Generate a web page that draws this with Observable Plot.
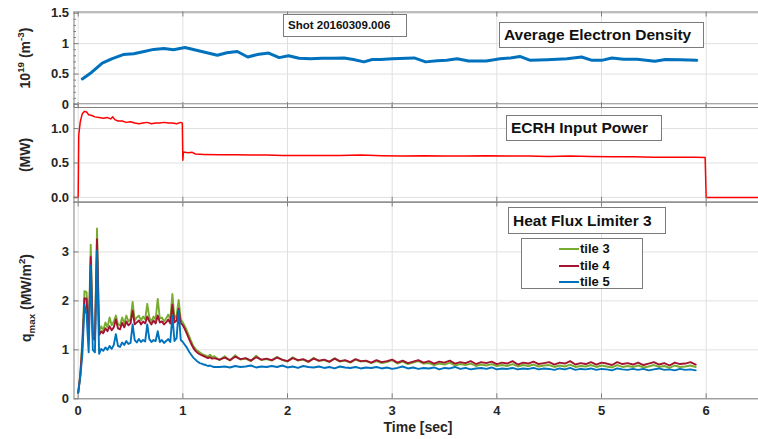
<!DOCTYPE html>
<html><head><meta charset="utf-8">
<script src="https://cdn.jsdelivr.net/npm/d3@7"></script>
<script src="https://cdn.jsdelivr.net/npm/@observablehq/plot@0.6"></script>
<style>
body{margin:0;background:#fff;}
#wrap{position:relative;width:758px;height:439px;overflow:hidden;background:#fff;font-family:"Liberation Sans",Arial,Helvetica,sans-serif;}
#wrap svg{position:absolute;left:0;}
.box{position:absolute;background:#fff;border:1px solid #7a7a7a;box-sizing:border-box;font-weight:bold;color:#111;white-space:nowrap;}
</style></head><body><div id="wrap"></div>
<script>
// ---------------- data ----------------
const xTicks = [0, 1, 2, 3, 4, 5, 6];
const densTicks = [0, 0.5, 1, 1.5];
const densMinor = [0.1,0.2,0.3,0.4,0.6,0.7,0.8,0.9,1.1,1.2,1.3,1.4];
const powTicks = [0, 0.5, 1.0];
const heatTicks = [0, 1, 2, 3];

const densT = [0.04,0.13,0.23,0.32,0.43,0.53,0.63,0.72,0.82,0.91,1.02,1.13,1.23,1.33,1.42,1.52,1.62,1.71,1.82,1.92,2.01,2.11,2.22,2.33,2.44,2.54,2.63,2.73,2.81,2.89,3.0,3.21,3.32,3.43,3.52,3.62,3.73,3.90,4.03,4.13,4.22,4.32,4.48,4.67,4.81,4.91,5.0,5.10,5.21,5.34,5.51,5.61,5.75,5.91];
const densV = [0.42,0.53,0.68,0.75,0.82,0.835,0.87,0.905,0.92,0.90,0.935,0.89,0.85,0.81,0.85,0.87,0.78,0.82,0.845,0.77,0.80,0.76,0.75,0.76,0.76,0.765,0.74,0.70,0.74,0.74,0.75,0.765,0.70,0.72,0.725,0.75,0.715,0.715,0.75,0.765,0.79,0.725,0.735,0.75,0.78,0.725,0.725,0.765,0.745,0.745,0.71,0.74,0.735,0.725];

const powT = [-0.04,0.0,0.005,0.02,0.04,0.06,0.08,0.10,0.13,0.16,0.20,0.24,0.28,0.31,0.33,0.35,0.38,0.42,0.46,0.50,0.54,0.58,0.62,0.66,0.70,0.74,0.78,0.82,0.86,0.90,0.94,0.98,0.995,1.0,1.005,1.05,1.09,1.12,1.2,1.35,1.5,1.65,1.8,1.95,2.1,2.3,2.5,2.7,2.9,3.1,3.3,3.5,3.7,3.9,4.1,4.3,4.5,4.7,4.9,5.1,5.3,5.5,5.7,5.9,5.99,6.0,6.5];
const powV = [0,0,0.9,1.1,1.22,1.25,1.24,1.20,1.19,1.17,1.16,1.15,1.16,1.14,1.17,1.13,1.11,1.11,1.09,1.10,1.08,1.07,1.08,1.09,1.07,1.08,1.08,1.09,1.08,1.08,1.07,1.09,1.08,0.54,0.66,0.65,0.655,0.63,0.625,0.62,0.62,0.615,0.615,0.61,0.61,0.61,0.61,0.615,0.605,0.60,0.605,0.60,0.60,0.605,0.60,0.60,0.595,0.60,0.595,0.59,0.59,0.585,0.585,0.585,0.58,0.0,0.0];

// heat flux: fast sampling 0..1.30 every 0.02 s, then 1.35..5.90 every 0.05 s
const heatStepA = 0.02, heatStartB = 1.35, heatStepB = 0.05;
const tile5A = [0.12,0.45,0.90,1.92,1.72,0.95,2.72,1.00,0.95,3.03,
  0.92,1.02,0.98,1.05,1.00,1.08,1.02,1.10,1.32,1.08,
  1.06,1.15,1.10,1.18,1.12,1.14,1.52,1.20,1.15,1.22,
  1.16,1.20,1.17,1.52,1.22,1.16,1.20,1.18,1.38,1.16,
  1.20,1.14,1.18,1.22,1.16,1.70,1.18,1.24,1.80,1.20,
  1.16,1.10,1.04,0.96,0.90,0.84,0.80,0.76,0.73,0.72,
  0.70,0.69,0.67,0.68,0.66,0.65];
const tile4A = [0.12,0.48,1.10,2.05,2.05,1.20,2.90,1.25,1.20,3.26,
  1.30,1.38,1.34,1.44,1.38,1.48,1.40,1.46,1.62,1.44,
  1.42,1.55,1.46,1.58,1.50,1.54,1.80,1.52,1.56,1.60,
  1.52,1.58,1.54,1.68,1.58,1.52,1.60,1.54,1.70,1.56,
  1.58,1.52,1.56,1.62,1.54,1.92,1.56,1.60,1.84,1.55,
  1.50,1.42,1.32,1.22,1.12,1.04,0.98,0.94,0.91,0.89,
  0.87,0.85,0.83,0.85,0.82,0.83];
const tile3A = [0.12,0.50,1.20,2.20,2.18,1.28,3.15,1.32,1.30,3.48,
  1.38,1.48,1.40,1.56,1.46,1.66,1.50,1.58,1.70,1.52,
  1.50,1.66,1.54,1.70,1.58,1.62,1.98,1.60,1.66,1.70,
  1.60,1.68,1.62,1.94,1.66,1.58,1.68,1.62,2.04,1.64,
  1.66,1.58,1.64,1.72,1.62,2.14,1.64,1.70,2.02,1.62,
  1.56,1.48,1.38,1.28,1.17,1.08,1.02,0.98,0.95,0.92,
  0.90,0.88,0.86,0.90,0.85,0.87];
const tile5B = [0.65,0.66,0.64,0.67,0.65,0.66,0.68,0.64,0.66,0.65,
  0.67,0.65,0.68,0.64,0.66,0.63,0.67,0.65,0.64,0.66,
  0.63,0.65,0.62,0.66,0.64,0.63,0.65,0.62,0.64,0.63,
  0.65,0.62,0.64,0.61,0.63,0.66,0.62,0.64,0.61,0.63,
  0.62,0.64,0.60,0.63,0.62,0.65,0.61,0.63,0.60,0.62,
  0.63,0.61,0.64,0.60,0.62,0.61,0.63,0.60,0.62,0.61,
  0.63,0.60,0.62,0.61,0.59,0.62,0.60,0.63,0.59,0.61,
  0.60,0.62,0.59,0.61,0.60,0.58,0.62,0.60,0.59,0.61,
  0.59,0.61,0.58,0.60,0.62,0.59,0.60,0.58,0.61,0.59,
  0.60,0.58];
const tile4B = [0.80,0.84,0.79,0.86,0.81,0.83,0.78,0.85,0.80,0.82,
  0.79,0.84,0.80,0.77,0.83,0.79,0.81,0.76,0.82,0.78,
  0.80,0.76,0.82,0.77,0.79,0.75,0.81,0.77,0.78,0.74,
  0.79,0.75,0.77,0.80,0.74,0.78,0.73,0.76,0.79,0.74,
  0.77,0.72,0.76,0.74,0.78,0.72,0.75,0.73,0.77,0.71,
  0.75,0.73,0.76,0.71,0.74,0.72,0.77,0.70,0.74,0.72,
  0.76,0.71,0.73,0.75,0.70,0.74,0.72,0.77,0.70,0.73,
  0.71,0.75,0.70,0.74,0.72,0.69,0.75,0.71,0.73,0.70,
  0.74,0.69,0.72,0.75,0.70,0.73,0.68,0.74,0.71,0.72,
  0.75,0.70];
const tile3B = [0.79,0.87,0.78,0.89,0.80,0.82,0.77,0.88,0.79,0.81,
  0.78,0.86,0.79,0.76,0.85,0.78,0.80,0.75,0.84,0.77,
  0.79,0.75,0.83,0.76,0.78,0.74,0.80,0.76,0.77,0.73,
  0.77,0.73,0.75,0.79,0.72,0.76,0.71,0.74,0.77,0.72,
  0.73,0.69,0.72,0.70,0.74,0.68,0.71,0.69,0.72,0.67,
  0.70,0.68,0.71,0.67,0.69,0.67,0.71,0.66,0.69,0.67,
  0.70,0.66,0.68,0.69,0.65,0.68,0.66,0.70,0.65,0.67,
  0.66,0.69,0.65,0.68,0.66,0.64,0.69,0.65,0.67,0.65,
  0.68,0.64,0.66,0.69,0.65,0.67,0.63,0.68,0.65,0.66,
  0.68,0.65];

const tileNames = ["tile 3", "tile 4", "tile 5"];
const tileColors = ["#77AC30", "#A2142F", "#0072BD"];
const shotText = "Shot 20160309.006";
const titles = ["Average Electron Density", "ECRH Input Power", "Heat Flux Limiter 3"];
const xLabel = "Time [sec]";

// ---------------- build ----------------
const FONT = '"Liberation Sans", Arial, Helvetica, sans-serif';
const W = 758, ML = 73.5;
const xDomain = [-0.04, 6.5];
const GRID = "#e0e0e0", FRAME = "#808080", TXT = "#262626";
const wrap = document.getElementById("wrap");

const dens = densT.map((t, i) => ({t, v: densV[i]}));
const pow = powT.map((t, i) => ({t, v: powV[i]}));
function heatSeries(a, b) {
  return a.map((v, i) => ({t: i * heatStepA, v}))
    .concat(b.map((v, i) => ({t: heatStartB + i * heatStepB, v})));
}
const heat = [heatSeries(tile3A, tile3B), heatSeries(tile4A, tile4B), heatSeries(tile5A, tile5B)];

function makePanel({top, height, mTop, mBottom, yDomain, yTicks, yFmt, yMinor, lines, xLabels}) {
  const innerH = height - mTop - mBottom, innerW = W - ML;
  const marks = [
    Plot.gridX(xTicks, {stroke: GRID, strokeOpacity: 1}),
    Plot.gridY(yTicks, {stroke: GRID, strokeOpacity: 1}),
    ...lines,
    Plot.ruleY([yDomain[0]], {stroke: FRAME}),
    Plot.ruleY([yDomain[1]], {stroke: FRAME}),
    Plot.ruleX([xDomain[0]], {stroke: FRAME}),
    Plot.tickX(xTicks, {stroke: FRAME, insetTop: innerH - 5}),
    Plot.tickX(xTicks, {stroke: FRAME, insetBottom: innerH - 5}),
    Plot.tickY(yTicks, {stroke: FRAME, insetRight: innerW - 5}),
    yMinor ? Plot.tickY(yMinor, {stroke: FRAME, insetRight: innerW - 2.5}) : null,
    Plot.axisY(yTicks, {anchor: "left", tickSize: 0, tickPadding: 5, tickFormat: yFmt, label: null}),
    xLabels ? Plot.axisX(xTicks, {anchor: "bottom", tickSize: 0, tickPadding: 7, label: null}) : null
  ];
  const svg = Plot.plot({
    width: W, height, marginLeft: ML, marginRight: 0, marginTop: mTop, marginBottom: mBottom,
    x: {domain: xDomain, axis: null},
    y: {domain: yDomain, axis: null},
    style: {fontFamily: FONT, fontSize: "13px", fontWeight: "bold", color: TXT, background: "transparent", overflow: "visible"},
    marks
  });
  svg.style.top = top + "px";
  svg.style.position = "absolute";
  svg.style.maxWidth = "none";
  return svg;
}

function addText(svg, x, y, rotate, size, parts, anchor = "middle") {
  const t = d3.select(svg).append("text")
    .attr("transform", `translate(${x},${y}) rotate(${rotate})`)
    .attr("text-anchor", anchor).attr("font-size", size).attr("font-weight", "bold")
    .attr("fill", TXT).attr("font-family", FONT);
  let shift = 0;
  parts.forEach(p => {
    const target = p.sup ? -0.42 * size : p.sub ? 0.3 * size : 0;
    const ts = t.append("tspan").text(p.text).attr("dy", target - shift);
    shift = target;
    if (p.sup || p.sub) ts.attr("font-size", size * 0.7);
  });
}

// heat panel (bottom)
const p3 = makePanel({
  top: 196, height: 243, mTop: 5.5, mBottom: 40.7,
  yDomain: [0, 4.02], yTicks: heatTicks, yFmt: d3.format("d"), xLabels: true,
  lines: heat.map((s, i) => Plot.line(s, {x: "t", y: "v", stroke: tileColors[i], strokeWidth: 1.9}))
});
// power panel (middle)
const p2 = makePanel({
  top: 98, height: 106, mTop: 5.3, mBottom: 2.3,
  yDomain: [-0.07, 1.36], yTicks: powTicks, yFmt: d3.format(".1f"),
  lines: [Plot.line(pow, {x: "t", y: "v", stroke: "#ff0000", strokeWidth: 1.5})]
});
// density panel (top)
const p1 = makePanel({
  top: 0, height: 110, mTop: 11.5, mBottom: 3,
  yDomain: [-0.05, 1.52], yTicks: densTicks, yFmt: d => String(d), yMinor: densMinor,
  lines: [Plot.line(dens, {x: "t", y: "v", stroke: "#0072BD", strokeWidth: 3})]
});
wrap.appendChild(p3); wrap.appendChild(p2); wrap.appendChild(p1);

addText(p1, 30, 58, -90, 14, [{text: "10"}, {text: "19", sup: true}, {text: " (m"}, {text: "-3", sup: true}, {text: ")"}]);
addText(p2, 30, 155 - 98, -90, 14, [{text: "(MW)"}]);
addText(p3, 31, 298 - 196, -90, 14, [{text: "q"}, {text: "max", sub: true}, {text: " (MW/m"}, {text: "2", sup: true}, {text: ")"}]);
addText(p3, 418, 432 - 196, 0, 14, [{text: xLabel}]);

// annotation boxes
function box(left, top, w, h, text, size) {
  const d = document.createElement("div");
  d.className = "box";
  Object.assign(d.style, {left: left + "px", top: top + "px", width: w + "px", height: h + "px",
    fontSize: size + "px", lineHeight: (h - 2) + "px", paddingLeft: "4px"});
  d.textContent = text;
  wrap.appendChild(d);
  return d;
}
box(283, 14, 124, 23, shotText, 11.5);
box(499, 22, 205, 26, titles[0], 15.5);
box(506, 115, 156, 26, titles[1], 15.5);
box(508, 207, 158, 27, titles[2], 15.5);

// legend
const leg = document.createElement("div");
leg.className = "box";
Object.assign(leg.style, {left: "521px", top: "238px", width: "122px", height: "51px"});
tileNames.forEach((name, i) => {
  const cy = 10 + i * 16.5;
  const ln = document.createElement("div");
  Object.assign(ln.style, {position: "absolute", left: "37px", top: (cy - 1) + "px", width: "20px", height: "2px", background: tileColors[i]});
  const tx = document.createElement("div");
  Object.assign(tx.style, {position: "absolute", left: "58px", top: (cy - 8) + "px", fontSize: "13px", lineHeight: "16px", color: "#111"});
  tx.textContent = name;
  leg.appendChild(ln); leg.appendChild(tx);
});
wrap.appendChild(leg);
</script>
</body></html>
